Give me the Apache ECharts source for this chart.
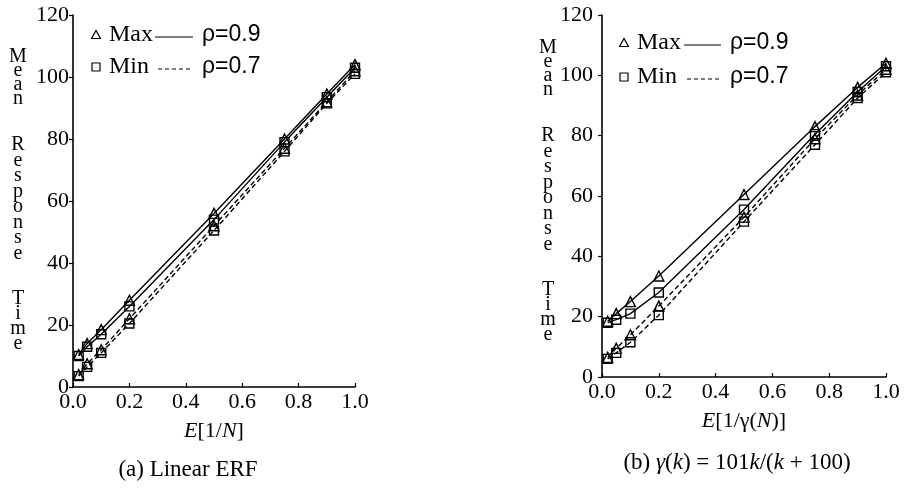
<!DOCTYPE html>
<html>
<head>
<meta charset="utf-8">
<script src="https://cdn.jsdelivr.net/npm/echarts@6/dist/echarts.min.js"></script>
<style>
  html, body { margin: 0; padding: 0; background: #fff; }
  #main { width: 904px; height: 494px; }
</style>
</head>
<body>
<div id="main"></div>
<script>
// x positions (E[1/N] or E[1/gamma(N)])
var xVals = [0.02, 0.05, 0.1, 0.2, 0.5, 0.75, 0.9, 1.0];

// (a) linear ERF
var linMax9 = [10.5, 14, 18.5, 28, 56, 80, 94.5, 104];
var linMin9 = [10, 13, 17, 26, 54, 79, 93.5, 103];
var linMax7 = [4, 7.5, 12, 22, 52, 77, 92, 102];
var linMin7 = [3.5, 6.5, 11, 20.5, 50.5, 76, 91.5, 101];

// (b) gamma(k) = 101k/(k+100)
var gamMax9 = [18.5, 21, 25, 33.5, 60.5, 83, 96, 104];
var gamMin9 = [18, 19, 21, 28, 55.5, 80.5, 94.5, 103];
var gamMax7 = [6.5, 9.5, 14, 23.5, 53, 79, 93.5, 102];
var gamMin7 = [6, 8, 11.5, 20.5, 51.5, 77, 92.5, 101];

var serif = 'Liberation Serif';
var sans = 'Liberation Sans';
var ink = '#000';

function pairs(ys) {
  var out = [];
  for (var i = 0; i < xVals.length; i++) out.push([xVals[i], ys[i]]);
  return out;
}

function mkSeries(idx, ys, sym, dashed) {
  return {
    type: 'line',
    xAxisIndex: idx,
    yAxisIndex: idx,
    data: pairs(ys),
    symbol: sym,
    symbolSize: sym === 'triangle' ? 10 : 9,
    showAllSymbol: true,
    lineStyle: { color: ink, width: 1.4, type: dashed ? [5, 3] : 'solid' },
    itemStyle: { color: 'rgba(255,255,255,0)', borderColor: ink, borderWidth: 1.4 },
    z: sym === 'triangle' ? 3 : 2,
    animation: false
  };
}

function mkX(idx) {
  return {
    gridIndex: idx,
    type: 'value',
    min: 0, max: 1, interval: 0.2,
    axisLine: { lineStyle: { color: ink, width: 1.6 } },
    axisTick: { inside: true, length: 4, lineStyle: { color: ink, width: 1.2 } },
    splitLine: { show: false },
    axisLabel: {
      color: ink, fontFamily: serif, fontSize: 22, margin: 4,
      formatter: function (v) { return v.toFixed(1); }
    },
    name: idx === 0 ? '{i|E}[1/{i|N}]' : '{i|E}[1/γ({i|N})]',
    nameLocation: 'middle',
    nameGap: 33,
    nameTextStyle: {
      color: ink, fontFamily: serif, fontSize: 22,
      rich: { i: { fontStyle: 'italic', fontFamily: serif, fontSize: 22, color: ink } }
    }
  };
}

function mkY(idx) {
  return {
    gridIndex: idx,
    type: 'value',
    min: 0, max: 120, interval: 20,
    axisLine: { show: true, lineStyle: { color: ink, width: 1.6 } },
    axisTick: { show: true, length: 4, lineStyle: { color: ink, width: 1.2 } },
    splitLine: { show: false },
    axisLabel: { color: ink, fontFamily: serif, fontSize: 22, margin: idx === 0 ? 4 : 9 }
  };
}

function vtext(x, y, word, step) {
  return {
    type: 'text', x: x, y: y,
    style: {
      text: word.split('').join('\n'),
      fontFamily: serif, fontSize: 20, lineHeight: step,
      fill: ink, align: 'center', verticalAlign: 'top'
    }
  };
}

function legend(x0, y1, y2, lineX1, lineX2, rhoX) {
  var s = 4.5;
  return [
    { type: 'polygon', shape: { points: [[x0, y1 - s], [x0 - s, y1 + s - 1], [x0 + s, y1 + s - 1]] },
      style: { fill: '#fff', stroke: ink, lineWidth: 1.2 } },
    { type: 'rect', shape: { x: x0 - 4, y: y2 - 4, width: 8, height: 8 },
      style: { fill: '#fff', stroke: ink, lineWidth: 1.2 } },
    { type: 'text', x: x0 + 13, y: y1, style: { text: 'Max', fontFamily: serif, fontSize: 24, fill: ink, verticalAlign: 'middle' } },
    { type: 'text', x: x0 + 13, y: y2, style: { text: 'Min', fontFamily: serif, fontSize: 24, fill: ink, verticalAlign: 'middle' } },
    { type: 'line', shape: { x1: lineX1, y1: y1 + 2, x2: lineX2, y2: y1 + 2 }, style: { stroke: ink, lineWidth: 1.2 } },
    { type: 'line', shape: { x1: lineX1 + 3, y1: y2 + 2, x2: lineX2, y2: y2 + 2 }, style: { stroke: ink, lineWidth: 1.2, lineDash: [4, 3] } },
    { type: 'text', x: rhoX, y: y1, style: { text: 'ρ=0.9', fontFamily: sans, fontSize: 23, fill: ink, verticalAlign: 'middle' } },
    { type: 'text', x: rhoX, y: y2, style: { text: 'ρ=0.7', fontFamily: sans, fontSize: 23, fill: ink, verticalAlign: 'middle' } }
  ];
}

var myChart = echarts.init(document.getElementById('main'));

var graphics = [];
// left y title
graphics.push(vtext(18, 50, 'Mean', 14));
graphics.push(vtext(18, 137, 'Response', 15.5));
graphics.push(vtext(18, 291, 'Time', 15));
// right y title
graphics.push(vtext(548, 41, 'Mean', 14));
graphics.push(vtext(548, 128, 'Response', 15.5));
graphics.push(vtext(548, 282, 'Time', 15));
graphics = graphics.concat(legend(96, 35, 67, 155, 193, 202));
graphics = graphics.concat(legend(624, 43, 77, 684, 721, 730));
graphics.push({
  type: 'text', x: 188, y: 470,
  style: { text: '(a) Linear ERF', fontFamily: serif, fontSize: 23, fill: ink, align: 'center', verticalAlign: 'middle' }
});
graphics.push({
  type: 'text', x: 737, y: 463,
  style: {
    text: '(b) {i|γ}({i|k}) = 101{i|k}/({i|k} + 100)',
    fontFamily: serif, fontSize: 23, fill: ink, align: 'center', verticalAlign: 'middle',
    rich: { i: { fontFamily: serif, fontStyle: 'italic', fontSize: 23, fill: ink } }
  }
});

var option = {
  backgroundColor: '#fff',
  animation: false,
  grid: [
    { left: 73, top: 15, width: 282, height: 372 },
    { left: 602, top: 15, width: 284, height: 362 }
  ],
  xAxis: [mkX(0), mkX(1)],
  yAxis: [mkY(0), mkY(1)],
  series: [
    mkSeries(0, linMax9, 'triangle', false),
    mkSeries(0, linMin9, 'rect', false),
    mkSeries(0, linMax7, 'triangle', true),
    mkSeries(0, linMin7, 'rect', true),
    mkSeries(1, gamMax9, 'triangle', false),
    mkSeries(1, gamMin9, 'rect', false),
    mkSeries(1, gamMax7, 'triangle', true),
    mkSeries(1, gamMin7, 'rect', true)
  ],
  graphic: graphics
};
myChart.setOption(option);
</script>
</body>
</html>
